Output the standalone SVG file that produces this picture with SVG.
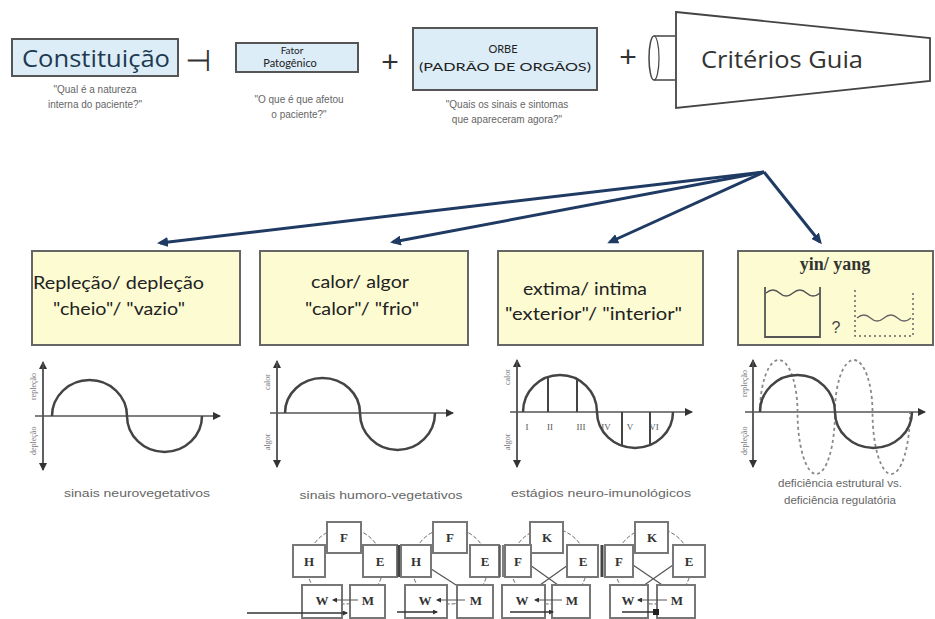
<svg xmlns="http://www.w3.org/2000/svg" width="935" height="619" viewBox="0 0 935 619">
<style>
.bluebox{fill:#dcedf8;stroke:#555;stroke-width:2}
.ybox{fill:#fdfbd2;stroke:#666;stroke-width:2}
.sub{font-family:"Liberation Sans",Arial,sans-serif;font-size:10px;fill:#666}
.btxt{font-family:"Lato","Liberation Sans",sans-serif;fill:#222}
.ax{stroke:#555;stroke-width:1.5;fill:none}
.curve{stroke:#444;stroke-width:2.5;fill:none}
.axl{font-family:"Liberation Serif",serif;font-size:8px;fill:#777}
.cap{font-family:"Liberation Sans",Arial,sans-serif;font-size:10px;fill:#666}
.nbox{fill:#fff;stroke:#777;stroke-width:2}
.nl{font-family:"Liberation Serif",serif;font-size:13px;font-weight:bold;fill:#333;text-anchor:middle}
.cyc{fill:none;stroke:#666;stroke-width:1}
.conn{stroke:#1f3b63;stroke-width:3;fill:none}
</style>
<defs>
<marker id="ah" markerWidth="11" markerHeight="10" refX="8" refY="5" orient="auto" markerUnits="userSpaceOnUse" viewBox="0 0 11 10"><path d="M0,0 L11,5 L0,10 Z" fill="#1f3b63"/></marker>
<marker id="axh" markerWidth="8" markerHeight="8" refX="7" refY="4" orient="auto" markerUnits="userSpaceOnUse" viewBox="0 0 8 8"><path d="M0,0 L8,4 L0,8 Z" fill="#333"/></marker>
<marker id="sh" markerWidth="5" markerHeight="5" refX="4" refY="2.5" orient="auto" markerUnits="userSpaceOnUse" viewBox="0 0 5 5"><path d="M0,0 L5,2.5 L0,5 Z" fill="#333"/></marker>
</defs>
<rect width="935" height="619" fill="#fff"/>

<g id="constituicao">
<rect class="bluebox" x="12" y="39" width="166" height="37"/>
<text x="22" y="67" font-family="'Open Sans','Liberation Sans',sans-serif" font-size="24" fill="#1e3a50" textLength="148" lengthAdjust="spacingAndGlyphs">Constituição</text>
<text class="sub" x="95" y="93" text-anchor="middle">"Qual é a natureza</text>
<text class="sub" x="95" y="108" text-anchor="middle">interna do paciente?"</text>
</g>
<text x="198" y="71" font-family="'DejaVu Sans',sans-serif" font-size="30" fill="#333" text-anchor="middle">⊣</text>

<g id="fator">
<rect class="bluebox" x="236" y="43" width="122" height="29"/>
<text class="btxt" x="292" y="54" font-size="10" text-anchor="middle">Fator</text>
<text class="btxt" x="290" y="67" font-size="11" text-anchor="middle">Patogênico</text>
<text class="sub" x="299" y="103" text-anchor="middle">"O que é que afetou</text>
<text class="sub" x="299" y="118" text-anchor="middle">o paciente?"</text>
</g>
<text x="390" y="72" font-family="'Liberation Sans',sans-serif" font-size="30" fill="#333" text-anchor="middle">+</text>

<g id="orbe">
<rect class="bluebox" x="413" y="28" width="184" height="62"/>
<text class="btxt" x="503" y="53" font-size="11" text-anchor="middle">ORBE</text>
<text class="btxt" x="505" y="71" font-size="12" text-anchor="middle" textLength="172" lengthAdjust="spacingAndGlyphs">(PADRÃO DE ORGÃOS)</text>
<text class="sub" x="507" y="108" text-anchor="middle">"Quais os sinais e sintomas</text>
<text class="sub" x="507" y="123" text-anchor="middle">que apareceram agora?"</text>
</g>
<text x="628" y="67" font-family="'Liberation Sans',sans-serif" font-size="30" fill="#333" text-anchor="middle">+</text>

<g id="criterios">
<path d="M675,36 L654,36 A5,22 0 0 0 654,80 L675,80" fill="#fff" stroke="#444" stroke-width="1.5"/>
<path d="M654,36 A5,22 0 0 1 654,80" fill="none" stroke="#444" stroke-width="1.2"/>
<polygon points="676,12 930,38 930,81 676,108" fill="#fff" stroke="#444" stroke-width="1.8"/>
<text x="701" y="68" font-family="'Open Sans','Liberation Sans',sans-serif" font-size="23" fill="#333" textLength="162" lengthAdjust="spacingAndGlyphs">Critérios Guia</text>
</g>

<g id="connectors">
<line class="conn" x1="764" y1="172" x2="160" y2="243" marker-end="url(#ah)"/>
<line class="conn" x1="764" y1="172" x2="393" y2="242" marker-end="url(#ah)"/>
<line class="conn" x1="764" y1="172" x2="610" y2="242" marker-end="url(#ah)"/>
<line class="conn" x1="764" y1="172" x2="820" y2="242" marker-end="url(#ah)"/>
</g>

<g id="box-replecao">
<rect class="ybox" x="32" y="251" width="208" height="94"/>
<text class="btxt" x="33" y="289" font-size="17" textLength="171" lengthAdjust="spacingAndGlyphs">Repleção/ depleção</text>
<text class="btxt" x="53" y="315" font-size="17" textLength="132" lengthAdjust="spacingAndGlyphs">"cheio"/ "vazio"</text>
</g>
<g id="box-calor">
<rect class="ybox" x="260" y="251" width="208" height="94"/>
<text class="btxt" x="360" y="288" font-size="17" text-anchor="middle" textLength="98" lengthAdjust="spacingAndGlyphs">calor/ algor</text>
<text class="btxt" x="362" y="315" font-size="17" text-anchor="middle" textLength="114" lengthAdjust="spacingAndGlyphs">"calor"/ "frio"</text>
</g>
<g id="box-extima">
<rect class="ybox" x="498" y="251" width="205" height="94"/>
<text class="btxt" x="523" y="295" font-size="17" textLength="124" lengthAdjust="spacingAndGlyphs">extima/ intima</text>
<text class="btxt" x="505" y="320" font-size="17" textLength="177" lengthAdjust="spacingAndGlyphs">"exterior"/ "interior"</text>
</g>
<g id="box-yinyang">
<rect class="ybox" x="738" y="251" width="195" height="94"/>
<text x="835" y="270" font-family="'Liberation Serif',serif" font-size="18" font-weight="bold" fill="#333" text-anchor="middle">yin/ yang</text>
<path d="M765,287 L765,337 L820,337 L820,287" fill="none" stroke="#555" stroke-width="1.8"/>
<path d="M766,293 q7,-6 13.5,0 t13.5,0 t13.5,0 t13.5,0" fill="none" stroke="#555" stroke-width="1.5"/>
<text x="836" y="333" font-family="'Liberation Sans',sans-serif" font-size="16" fill="#444" text-anchor="middle">?</text>
<path d="M855,290 L855,336 L913,336 L913,290" fill="none" stroke="#666" stroke-width="1.5" stroke-dasharray="2,3"/>
<path d="M857,318 q7,-6 13.5,0 t13.5,0 t13.5,0 t13.5,0" fill="none" stroke="#666" stroke-width="1.3"/>
</g>

<g id="graph1">
<line class="ax" x1="43" y1="470" x2="43" y2="362" marker-end="url(#axh)"/>
<line class="ax" x1="43" y1="362" x2="43" y2="470" marker-end="url(#axh)"/>
<line class="ax" x1="35" y1="416" x2="220" y2="416" marker-end="url(#axh)"/>
<path class="curve" d="M52,416 A37.5,36 0 0 1 127,416 A37.5,36 0 0 0 202,416"/>
<text class="axl" transform="translate(36,400) rotate(-90)">repleção</text>
<text class="axl" transform="translate(36,455) rotate(-90)">depleção</text>
<text class="cap" x="137" y="497" text-anchor="middle" textLength="146" lengthAdjust="spacingAndGlyphs">sinais neurovegetativos</text>
</g>

<g id="graph2">
<line class="ax" x1="277" y1="467" x2="277" y2="361" marker-end="url(#axh)"/>
<line class="ax" x1="277" y1="361" x2="277" y2="467" marker-end="url(#axh)"/>
<line class="ax" x1="270" y1="413" x2="453" y2="413" marker-end="url(#axh)"/>
<path class="curve" d="M285,413 A37.5,35 0 0 1 360,413 A37.5,37 0 0 0 435,413"/>
<text class="axl" transform="translate(270,390) rotate(-90)">calor</text>
<text class="axl" transform="translate(270,450) rotate(-90)">algor</text>
<text class="cap" x="381" y="499" text-anchor="middle" textLength="163" lengthAdjust="spacingAndGlyphs">sinais humoro-vegetativos</text>
</g>

<g id="graph3">
<line class="ax" x1="517" y1="467" x2="517" y2="360" marker-end="url(#axh)"/>
<line class="ax" x1="517" y1="360" x2="517" y2="467" marker-end="url(#axh)"/>
<line class="ax" x1="510" y1="412" x2="692" y2="412" marker-end="url(#axh)"/>
<path class="curve" d="M523,412 A37,37 0 0 1 597,412 A38,36 0 0 0 673,412"/>
<g stroke="#444" stroke-width="2">
<line x1="548" y1="412" x2="548" y2="377"/>
<line x1="577" y1="412" x2="577" y2="379"/>
<line x1="622" y1="412" x2="622" y2="446"/>
<line x1="650" y1="412" x2="650" y2="445"/>
</g>
<g font-family="'Liberation Serif',serif" font-size="9" fill="#555" text-anchor="middle">
<text x="527" y="430">I</text><text x="550" y="430">II</text><text x="581" y="430">III</text><text x="606" y="430">IV</text><text x="630" y="430">V</text><text x="654" y="430">VI</text>
</g>
<text class="axl" transform="translate(510,385) rotate(-90)">calor</text>
<text class="axl" transform="translate(510,450) rotate(-90)">algor</text>
<text class="cap" x="601" y="497" text-anchor="middle" textLength="180" lengthAdjust="spacingAndGlyphs">estágios neuro-imunológicos</text>
</g>

<g id="graph4">
<line class="ax" x1="753" y1="467" x2="753" y2="360" marker-end="url(#axh)"/>
<line class="ax" x1="753" y1="360" x2="753" y2="467" marker-end="url(#axh)"/>
<line class="ax" x1="745" y1="412" x2="925" y2="412" marker-end="url(#axh)"/>
<path d="M760,412 A18.75,52 0 0 1 797.5,412 A18.75,62 0 0 0 835,412 A18.75,52 0 0 1 872.5,412 A18.75,62 0 0 0 910,412" fill="none" stroke="#888" stroke-width="1.8" stroke-dasharray="3,3"/>
<path class="curve" d="M760,412 A37.5,37 0 0 1 835,412 A38.5,36 0 0 0 912,412"/>
<text class="axl" transform="translate(747,397) rotate(-90)">repleção</text>
<text class="axl" transform="translate(747,455) rotate(-90)">depleção</text>
<text class="cap" x="840" y="487" text-anchor="middle" textLength="124" lengthAdjust="spacingAndGlyphs">deficiência estrutural vs.</text>
<text class="cap" x="840" y="504" text-anchor="middle" textLength="112" lengthAdjust="spacingAndGlyphs">deficiência regulatória</text>
</g>

<g id="network1">
<circle class="cyc" cx="345" cy="566" r="38" stroke-dasharray="4,2"/>
<rect class="nbox" x="327" y="522" width="34" height="31"/>
<rect class="nbox" x="293" y="545" width="32" height="32"/>
<rect class="nbox" x="363" y="545" width="34" height="32"/>
<rect class="nbox" x="302" y="585" width="40" height="33"/>
<rect class="nbox" x="350" y="585" width="35" height="33"/>
<text class="nl" x="344" y="542">F</text>
<text class="nl" x="309" y="566">H</text>
<text class="nl" x="380" y="566">E</text>
<text class="nl" x="322" y="605">W</text>
<text class="nl" x="368" y="605">M</text>
<line x1="358" y1="600" x2="333" y2="600" stroke="#555" stroke-width="1" marker-end="url(#sh)"/>
<line x1="247" y1="613" x2="347" y2="613" stroke="#333" stroke-width="1.3" marker-end="url(#sh)"/>
</g>
<line x1="399" y1="545" x2="399" y2="577" stroke="#444" stroke-width="3"/>

<g id="network2">
<circle class="cyc" cx="450" cy="566" r="38" stroke-dasharray="4,2"/>
<line x1="425" y1="565" x2="470" y2="594" stroke="#555" stroke-width="1.2"/>
<rect class="nbox" x="433" y="522" width="34" height="31"/>
<rect class="nbox" x="401" y="545" width="30" height="32"/>
<rect class="nbox" x="470" y="545" width="29" height="32"/>
<rect class="nbox" x="405" y="585" width="42" height="33"/>
<rect class="nbox" x="457" y="585" width="36" height="33"/>
<text class="nl" x="450" y="542">F</text>
<text class="nl" x="416" y="566">H</text>
<text class="nl" x="485" y="566">E</text>
<text class="nl" x="425" y="605">W</text>
<text class="nl" x="476" y="605">M</text>
<line x1="465" y1="600" x2="437" y2="600" stroke="#555" stroke-width="1" marker-end="url(#sh)"/>
<line x1="397" y1="612" x2="437" y2="612" stroke="#333" stroke-width="1.3" marker-end="url(#sh)"/>
</g>
<line x1="500" y1="545" x2="500" y2="577" stroke="#555" stroke-width="1.5"/>
<line x1="503" y1="545" x2="503" y2="577" stroke="#555" stroke-width="1.5"/>

<g id="network3">
<circle class="cyc" cx="549" cy="566" r="38" stroke-dasharray="4,2"/>
<line x1="530" y1="565" x2="572" y2="595" stroke="#555" stroke-width="1.2"/>
<line x1="568" y1="565" x2="526" y2="595" stroke="#555" stroke-width="1.2"/>
<rect class="nbox" x="530" y="522" width="33" height="31"/>
<rect class="nbox" x="505" y="545" width="26" height="32"/>
<rect class="nbox" x="567" y="545" width="31" height="32"/>
<rect class="nbox" x="502" y="585" width="43" height="33"/>
<rect class="nbox" x="552" y="585" width="38" height="33"/>
<text class="nl" x="547" y="542">K</text>
<text class="nl" x="518" y="566">F</text>
<text class="nl" x="583" y="566">E</text>
<text class="nl" x="522" y="605">W</text>
<text class="nl" x="572" y="605">M</text>
<line x1="562" y1="600" x2="535" y2="600" stroke="#555" stroke-width="1" marker-end="url(#sh)"/>
<line x1="510" y1="612" x2="553" y2="612" stroke="#333" stroke-width="1.3" marker-end="url(#sh)"/>
</g>
<line x1="602" y1="545" x2="602" y2="577" stroke="#444" stroke-width="3"/>

<g id="network4">
<circle class="cyc" cx="653" cy="566" r="38" stroke-dasharray="4,2"/>
<line x1="633" y1="565" x2="677" y2="595" stroke="#555" stroke-width="1.2"/>
<line x1="673" y1="565" x2="630" y2="595" stroke="#555" stroke-width="1.2"/>
<rect class="nbox" x="635" y="522" width="33" height="31"/>
<rect class="nbox" x="605" y="545" width="28" height="32"/>
<rect class="nbox" x="673" y="545" width="32" height="32"/>
<rect class="nbox" x="610" y="585" width="38" height="33"/>
<rect class="nbox" x="657" y="585" width="38" height="33"/>
<text class="nl" x="652" y="542">K</text>
<text class="nl" x="619" y="566">F</text>
<text class="nl" x="689" y="566">E</text>
<text class="nl" x="628" y="605">W</text>
<text class="nl" x="677" y="605">M</text>
<line x1="667" y1="600" x2="638" y2="600" stroke="#555" stroke-width="1" marker-end="url(#sh)"/>
<line x1="622" y1="612" x2="655" y2="612" stroke="#333" stroke-width="1.3"/>
<rect x="653" y="609" width="6" height="6" fill="#222"/>
</g>
</svg>
